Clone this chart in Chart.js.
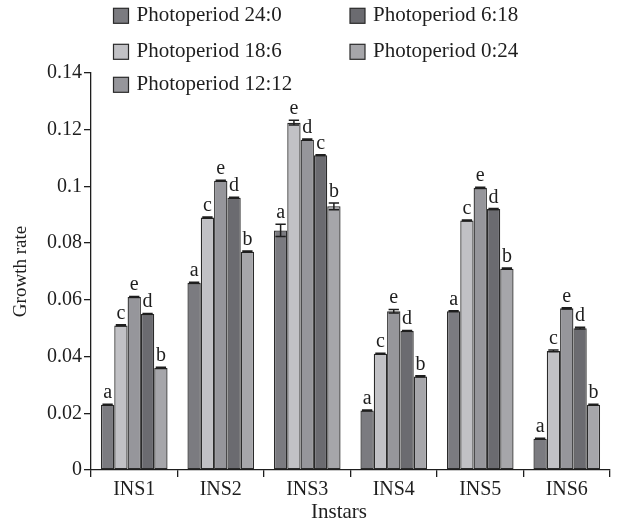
<!DOCTYPE html>
<html><head><meta charset="utf-8">
<script src="https://cdn.jsdelivr.net/npm/chart.js@4/dist/chart.umd.min.js"></script>
<style>html,body{margin:0;padding:0;background:#fff}#wrap{width:618px;height:529px;position:relative}</style>
</head><body><div id="wrap"><canvas id="c" width="618" height="529"></canvas></div>
<script>
const categories = ['INS1','INS2','INS3','INS4','INS5','INS6'];
const seriesLabels = ['Photoperiod 24:0','Photoperiod 18:6','Photoperiod 12:12','Photoperiod 6:18','Photoperiod 0:24'];
const p24_0  = [0.023, 0.066, 0.0845, 0.021, 0.056, 0.011];
const p18_6  = [0.051, 0.089, 0.1225, 0.041, 0.088, 0.042];
const p12_12 = [0.061, 0.102, 0.1165, 0.056, 0.0995, 0.057];
const p6_18  = [0.055, 0.096, 0.111, 0.049, 0.092, 0.050];
const p0_24  = [0.036, 0.077, 0.093, 0.033, 0.071, 0.023];
const err24_0  = [0.0002, 0.0002, 0.0022, 0.0002, 0.0002, 0.0002];
const err18_6  = [0.0002, 0.0002, 0.0008, 0.0002, 0.0002, 0.0003];
const err12_12 = [0.0002, 0.0002, 0.0002, 0.0006, 0.0002, 0.0002];
const err6_18  = [0.0002, 0.0002, 0.0002, 0.0002, 0.0002, 0.0003];
const err0_24  = [0.0002, 0.0002, 0.0012, 0.0002, 0.0002, 0.0002];
const let24_0  = ['a','a','a','a','a','a'];
const let18_6  = ['c','c','e','c','c','c'];
const let12_12 = ['e','e','d','e','e','e'];
const let6_18  = ['d','d','c','d','d','d'];
const let0_24  = ['b','b','b','b','b','b'];
const yTickLabels = ['0','0.02','0.04','0.06','0.08','0.1','0.12','0.14'];
const xTitle = 'Instars';
const yTitle = 'Growth rate';
const colors = ['#7b7b80','#c1c1c5','#96969b','#6b6b70','#a6a6aa'];

const seriesValues = [p24_0, p18_6, p12_12, p6_18, p0_24];
const seriesErr = [err24_0, err18_6, err12_12, err6_18, err0_24];
const seriesLetters = [let24_0, let18_6, let12_12, let6_18, let0_24];
const FONT = '"Liberation Serif", "DejaVu Serif", serif';
const INK = '#1e1e1e';

const extras = {
  id: 'extras',
  afterDatasetsDraw(chart) {
    const ctx = chart.ctx, y = chart.scales.y;
    ctx.save();
    chart.data.datasets.forEach((ds, i) => {
      const meta = chart.getDatasetMeta(i);
      meta.data.forEach((bar, j) => {
        const v = ds.data[j], e = seriesErr[i][j];
        const yt = y.getPixelForValue(v + e), yb = y.getPixelForValue(v - e);
        const half = bar.width / 2 - 1.5;
        ctx.strokeStyle = INK;
        ctx.lineWidth = 1.5;
        ctx.beginPath();
        ctx.moveTo(bar.x, yt); ctx.lineTo(bar.x, yb);
        ctx.moveTo(bar.x - half, yt); ctx.lineTo(bar.x + half, yt);
        ctx.moveTo(bar.x - half, yb); ctx.lineTo(bar.x + half, yb);
        ctx.stroke();
        ctx.fillStyle = INK;
        ctx.font = '20px ' + FONT;
        ctx.textAlign = 'center';
        ctx.textBaseline = 'alphabetic';
        ctx.fillText(seriesLetters[i][j], bar.x, yt - 6);
      });
    });
    ctx.restore();
  },
  afterDraw(chart) {
    const ctx = chart.ctx;
    ctx.save();
    const colX = [113.5, 350], rowY = [15.8, 51.8, 84.8];
    chart.data.datasets.forEach((ds, i) => {
      const col = i < 3 ? 0 : 1, row = i < 3 ? i : i - 3;
      const x = colX[col], yc = rowY[row];
      ctx.fillStyle = ds.backgroundColor;
      ctx.fillRect(x, yc - 7.5, 15, 15);
      ctx.strokeStyle = '#2a2a2a';
      ctx.lineWidth = 1.2;
      ctx.strokeRect(x, yc - 7.5, 15, 15);
      ctx.fillStyle = INK;
      ctx.font = '21px ' + FONT;
      ctx.textAlign = 'left';
      ctx.textBaseline = 'alphabetic';
      ctx.fillText(ds.label, x + 23, yc + 5);
    });
    ctx.font = '21px ' + FONT;
    ctx.textAlign = 'center';
    ctx.fillText(xTitle, 339, 518);
    ctx.restore();
  }
};

new Chart(document.getElementById('c'), {
  type: 'bar',
  data: {
    labels: categories,
    datasets: seriesLabels.map((lab, i) => ({
      label: lab,
      data: seriesValues[i],
      backgroundColor: colors[i],
      borderColor: '#2a2a2a',
      borderWidth: 1.3,
      borderSkipped: false,
      categoryPercentage: 0.77,
      barPercentage: 1.0
    }))
  },
  options: {
    responsive: false,
    animation: false,
    layout: { padding: { top: 73, right: 8, left: 0, bottom: 0 } },
    plugins: { legend: { display: false }, tooltip: { enabled: false } },
    scales: {
      x: {
        grid: { display: true, offset: true, drawOnChartArea: false, drawTicks: true, tickLength: 7, color: INK, lineWidth: 1.3 },
        border: { display: true, color: INK, width: 1.3 },
        ticks: { color: INK, font: { family: FONT, size: 20 }, padding: 1 },
        title: { display: false, text: xTitle },
        afterFit(s) { s.height = 59; }
      },
      y: {
        min: 0, max: 0.14,
        ticks: { stepSize: 0.02, color: INK, font: { family: FONT, size: 20 }, padding: 2,
          callback: (v, idx) => yTickLabels[idx] },
        grid: { display: true, drawOnChartArea: false, drawTicks: true, tickLength: 7, color: INK, lineWidth: 1.3 },
        border: { display: true, color: INK, width: 1.3 },
        title: { display: true, text: yTitle, color: INK, font: { family: FONT, size: 19 }, padding: { top: 10, bottom: 0 } },
        afterFit(s) { s.width = 91; }
      }
    }
  },
  plugins: [extras]
});
</script></body></html>
